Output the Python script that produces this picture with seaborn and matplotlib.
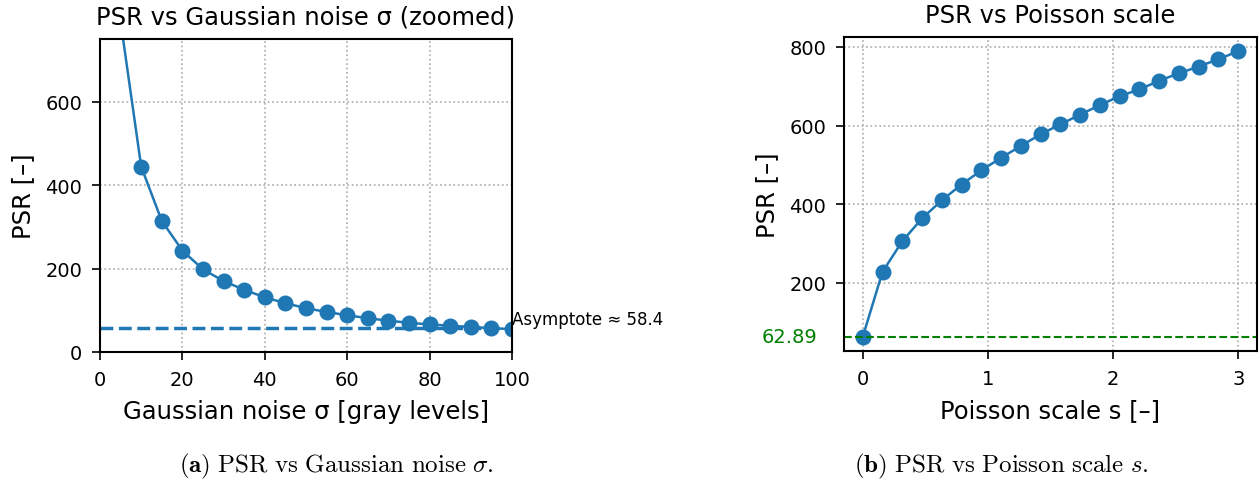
import numpy as np
import pandas as pd
import matplotlib
matplotlib.use("Agg")
import matplotlib.pyplot as plt
import matplotlib.transforms as mtransforms
import seaborn as sns

# ---- data ----
sigma_vals = [5, 10, 15, 20, 25, 30, 35, 40, 45, 50, 55, 60, 65, 70, 75, 80, 85, 90, 95, 100]
psr_gauss = [792, 444, 314, 243, 198, 170, 149, 131, 117, 105, 96, 88, 81, 75, 70, 66, 63, 60, 57, 55]
asymptote = 58.4

poisson_s = [0.0, 0.158, 0.316, 0.474, 0.632, 0.789, 0.947, 1.105, 1.263, 1.421,
             1.579, 1.737, 1.895, 2.053, 2.211, 2.368, 2.526, 2.684, 2.842, 3.0]
psr_poisson = [62.89, 228, 306, 364, 410, 450, 486, 518, 548, 578,
               603, 628, 652, 675, 692, 714, 733, 750, 769, 789]
baseline = 62.89

sns.set_style("ticks")
plt.rcParams['font.family'] = ['DejaVu Sans']
plt.rcParams['mathtext.fontset'] = 'cm'
for k in ("text.color", "axes.labelcolor", "xtick.color", "ytick.color", "axes.edgecolor"):
    plt.rcParams[k] = "black"

W, H = 1259, 485
fig = plt.figure(figsize=(W / 100, H / 100), dpi=100)

ax1 = fig.add_axes([100 / W, (H - 353) / H, 412 / W, 313 / H])
ax2 = fig.add_axes([844 / W, (H - 352) / H, 413 / W, 314 / H])

c0 = "#1f77b4"
df1 = pd.DataFrame({"sigma": sigma_vals, "psr": psr_gauss})
df2 = pd.DataFrame({"s": poisson_s, "psr": psr_poisson})

# left panel
sns.lineplot(data=df1, x="sigma", y="psr", ax=ax1, color=c0, marker="o",
             markersize=11.5, markeredgewidth=0, linewidth=1.8)
ax1.axhline(asymptote, color=c0, linestyle="--", linewidth=2.5)
ax1.text(100, asymptote, f"Asymptote ≈ {asymptote}", fontsize=12,
         ha="left", va="bottom", clip_on=False)
ax1.set_xlim(0, 100)
ax1.set_ylim(0, 750)
ax1.set_xticks([0, 20, 40, 60, 80, 100])
ax1.set_yticks([0, 200, 400, 600])
ax1.set_title("PSR vs Gaussian noise σ (zoomed)", fontsize=17.5, pad=11)
ax1.set_xlabel("Gaussian noise σ [gray levels]", fontsize=17.5, labelpad=7.5)
ax1.set_ylabel("PSR [–]", fontsize=17.5, labelpad=7.5)

# right panel
sns.lineplot(data=df2, x="s", y="psr", ax=ax2, color=c0, marker="o",
             markersize=11.5, markeredgewidth=0, linewidth=1.8)
ax2.axhline(baseline, color="green", linestyle="--", linewidth=1.5)
ax2.set_xticks([0, 1, 2, 3])
ax2.set_yticks([200, 400, 600, 800])
trans = mtransforms.blended_transform_factory(ax2.transAxes, ax2.transData)
ax2.text(-0.065, baseline, f"{baseline:.2f}", color="green", fontsize=14,
         ha="right", va="center", transform=trans, clip_on=False)
ax2.set_title("PSR vs Poisson scale", fontsize=17.5, pad=11)
ax2.set_xlabel("Poisson scale s [–]", fontsize=17.5, labelpad=7.5)
ax2.set_ylabel("PSR [–]", fontsize=17.5, labelpad=7.5)

for ax in (ax1, ax2):
    ax.tick_params(labelsize=14, length=6, width=1.2, pad=6.8)
    for sp in ax.spines.values():
        sp.set_linewidth(1.5)
        sp.set_color("black")
    ax.grid(True, linestyle=":", color="#aaaaaa", linewidth=1.2)
    ax.set_axisbelow(True)

fig.text(336 / W, 1 - 466 / H,
         r"$\mathbf{(a)}\ \mathrm{PSR\ vs\ Gaussian\ noise}\ \sigma\mathrm{.}$",
         ha="center", va="center", fontsize=18)
fig.text(1001 / W, 1 - 466 / H,
         r"$\mathbf{(b)}\ \mathrm{PSR\ vs\ Poisson\ scale}\ s\mathrm{.}$",
         ha="center", va="center", fontsize=18)

fig.savefig("out.png", dpi=100)
